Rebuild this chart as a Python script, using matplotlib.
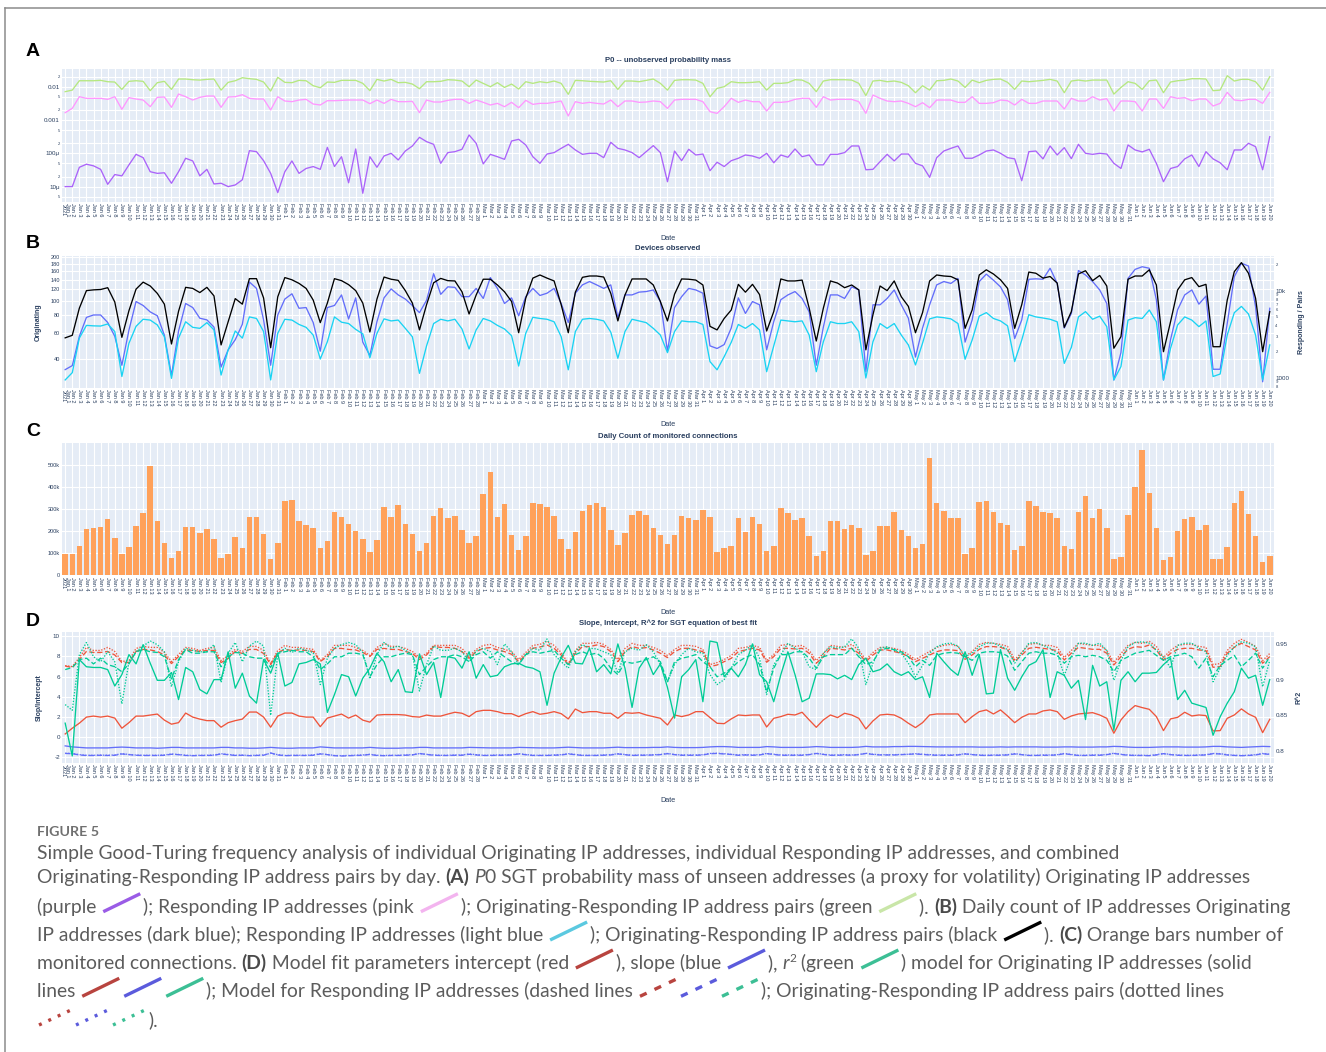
import datetime as dt
import matplotlib
matplotlib.use("Agg")
import matplotlib.pyplot as plt
from matplotlib.lines import Line2D

W, H = 1326, 1052
BG = "#E5ECF6"
INK = "#2a3f5f"
plt.rcParams['font.family'] = ['Liberation Sans', 'DejaVu Sans']

# ---- dates (one category per day, Jan 1 .. Jun 20 2021)
day0 = dt.date(2021, 1, 1)
dates = [day0 + dt.timedelta(days=i) for i in range(171)]
date_labels = ["%s %d" % (d.strftime("%b"), d.day) for d in dates]
date_labels[0] = "Jan 1\n2021"

# ---- A: P0 unobserved probability mass
p0_orig_micro = [  # purple, in units of 1e-6
    10, 10, 38, 47, 42, 33, 11.7, 23, 21, 45, 93, 74, 28, 25, 26, 12.6, 28, 71, 59, 21, 33, 12, 12.6, 10, 11.2, 16, 120, 112, 60, 25, 6.6,
    28, 59, 25, 35, 40, 33, 151, 40, 79, 13, 135, 6.3, 79, 38, 83, 100, 63, 117, 166, 302, 224, 186, 50, 105, 112, 132, 355, 200,
    48, 93, 79, 66, 234, 263, 178, 79, 50, 95, 105, 141, 186, 126, 93, 100, 100, 74, 214, 141, 126, 105, 74, 112, 170, 105, 14, 117, 60, 132, 89,
    95, 30, 54, 40, 60, 71, 89, 83, 71, 100, 52, 89, 76, 135, 79, 89, 45, 45, 93, 93, 105, 166, 166, 32, 33, 56, 93, 59, 95, 95,
    50, 42, 19, 74, 117, 141, 166, 71, 71, 89, 117, 126, 100, 74, 68, 15, 112, 117, 68, 166, 89, 148, 69, 186, 100, 93, 100, 95, 50, 35, 178,
    126, 110, 132, 50, 14, 35, 40, 68, 89, 40, 112, 68, 52, 32, 126, 126, 200, 158, 32, 316]
p0_resp = [  # pink
    0.00166, 0.00224, 0.00501, 0.00447, 0.00447, 0.00447, 0.00417, 0.00501, 0.00209, 0.00468, 0.00427, 0.00398, 0.00251, 0.00479, 0.00490, 0.00240,
    0.00603, 0.00501, 0.00398, 0.00479, 0.00525, 0.00525, 0.00240, 0.00490, 0.00501, 0.00575, 0.00447, 0.00427, 0.00427, 0.00200, 0.00501,
    0.00372, 0.00355, 0.00398, 0.00417, 0.00302, 0.00282, 0.00380, 0.00380, 0.00389, 0.00398, 0.00398, 0.00398, 0.00309, 0.00398, 0.00316, 0.00417,
    0.00355, 0.00355, 0.00363, 0.00166, 0.00398, 0.00347, 0.00347, 0.00389, 0.00417, 0.00417, 0.00316, 0.00398,
    0.00339, 0.00282, 0.00316, 0.00251, 0.00339, 0.00234, 0.00389, 0.00295, 0.00316, 0.00316, 0.00339, 0.00372, 0.00132, 0.00355, 0.00316, 0.00339,
    0.00316, 0.00302, 0.00398, 0.00251, 0.00372, 0.00372, 0.00339, 0.00347, 0.00372, 0.00355, 0.00224, 0.00398, 0.00417, 0.00417, 0.00417,
    0.00355, 0.00178, 0.00158, 0.00251, 0.00447, 0.00339, 0.00398, 0.00355, 0.00355, 0.00186, 0.00339, 0.00339, 0.00355, 0.00417, 0.00447,
    0.00447, 0.00240, 0.00501, 0.00398, 0.00417, 0.00417, 0.00417, 0.00355, 0.00158, 0.00562, 0.00447, 0.00372, 0.00355, 0.00372, 0.00316,
    0.00251, 0.00331, 0.00234, 0.00398, 0.00398, 0.00398, 0.00339, 0.00339, 0.00501, 0.00316, 0.00316, 0.00331, 0.00398, 0.00380, 0.00282, 0.00417,
    0.00316, 0.00316, 0.00372, 0.00372, 0.00372, 0.00214, 0.00447, 0.00372, 0.00372, 0.00501, 0.00398, 0.00437, 0.00186, 0.00372, 0.00372,
    0.00355, 0.00186, 0.00427, 0.00427, 0.00224, 0.00501, 0.00447, 0.00468, 0.00380, 0.00427, 0.00427, 0.00263, 0.00316, 0.00676, 0.00398,
    0.00380, 0.00417, 0.00417, 0.00316, 0.00676]
p0_pair = [  # light green
    0.0071, 0.0079, 0.0151, 0.0151, 0.0151, 0.0155, 0.0141, 0.0138, 0.0083, 0.0145, 0.0151, 0.0145, 0.0076, 0.0132, 0.0145, 0.0083,
    0.0170, 0.0170, 0.0162, 0.0158, 0.0166, 0.0170, 0.0079, 0.0135, 0.0151, 0.0186, 0.0174, 0.0166, 0.0138, 0.0074, 0.0191,
    0.0135, 0.0132, 0.0155, 0.0151, 0.0107, 0.0093, 0.0138, 0.0135, 0.0155, 0.0155, 0.0155, 0.0126, 0.0076, 0.0166, 0.0148, 0.0166,
    0.0132, 0.0135, 0.0120, 0.0087, 0.0141, 0.0141, 0.0145, 0.0162, 0.0158, 0.0148, 0.0100, 0.0158,
    0.0126, 0.0100, 0.0132, 0.0095, 0.0120, 0.0085, 0.0141, 0.0126, 0.0141, 0.0132, 0.0148, 0.0126, 0.0059, 0.0155, 0.0151, 0.0145,
    0.0141, 0.0138, 0.0151, 0.0083, 0.0148, 0.0148, 0.0141, 0.0155, 0.0170, 0.0126, 0.0079, 0.0155, 0.0162, 0.0162, 0.0158,
    0.0126, 0.0050, 0.0089, 0.0100, 0.0141, 0.0132, 0.0132, 0.0135, 0.0141, 0.0079, 0.0126, 0.0126, 0.0132, 0.0162, 0.0158,
    0.0126, 0.0071, 0.0148, 0.0162, 0.0162, 0.0162, 0.0158, 0.0126, 0.0054, 0.0148, 0.0155, 0.0141, 0.0148, 0.0135, 0.0107,
    0.0066, 0.0107, 0.0079, 0.0151, 0.0155, 0.0170, 0.0148, 0.0095, 0.0158, 0.0132, 0.0155, 0.0166, 0.0170, 0.0135, 0.0083, 0.0148,
    0.0141, 0.0148, 0.0155, 0.0166, 0.0148, 0.0066, 0.0148, 0.0158, 0.0148, 0.0158, 0.0158, 0.0158, 0.0060, 0.0095, 0.0141,
    0.0126, 0.0083, 0.0151, 0.0158, 0.0066, 0.0138, 0.0151, 0.0158, 0.0174, 0.0174, 0.0170, 0.0076, 0.0079, 0.0214, 0.0148,
    0.0166, 0.0166, 0.0141, 0.0079, 0.0200]

# ---- B: devices observed
dev_orig = [  # left axis, blue
    33.6, 35.8, 57, 77, 80, 80, 71, 57, 36, 63, 99, 93, 84, 79, 58, 30.7, 62, 96, 90, 76, 74, 66, 35, 46, 54, 69, 135, 122, 74, 36, 80,
    103, 112, 89, 90, 71, 45, 90, 93, 110, 75, 105, 52, 42, 72, 105, 121, 110, 103, 93, 83, 101, 154, 111, 125, 124, 107, 107, 122,
    104, 145, 122, 96, 105, 79, 107, 122, 109, 113, 122, 96, 71, 113, 129, 136, 129, 122, 129, 77, 110, 110, 115, 116, 119, 99, 45, 90, 107, 122, 119,
    113, 49, 47, 50, 65, 105, 82, 99, 94, 46, 72, 102, 110, 116, 104, 84, 36, 66, 110, 110, 104, 125, 119, 32.5, 94, 94, 104, 119, 94, 76,
    41, 65, 94, 129, 136, 132, 143, 52, 74, 136, 153, 139, 125, 102, 55, 74, 141, 142, 141, 168, 132, 65, 82, 162, 151, 136, 119, 96, 28.5, 44, 143,
    165, 172, 168, 102, 28.5, 54, 87, 110, 119, 95, 108, 33.8, 33.8, 70, 147, 182, 174, 91, 27.7, 89]
dev_resp = [  # right axis, light blue
    950, 1150, 2860, 4000, 3950, 3930, 4150, 3400, 1040, 2500, 3900, 4700, 4600, 4050, 2960, 990, 2860, 4400, 3800, 3700,
    4300, 3550, 1080, 2090, 3450, 2860, 5000, 4800, 3400, 950, 3250,
    4700, 4600, 4100, 3800, 3100, 1650, 2600, 5000, 4350, 4200, 3600, 3200, 1700, 3250, 4750, 4500, 4600, 3700, 2960, 1130,
    2330, 4200, 4700, 4500, 4700, 3640, 2150, 3550,
    4800, 4500, 4000, 3640, 3050, 1370, 3250, 4950, 4800, 4700, 4400, 2970, 1240, 3400, 4700, 4800, 4700, 4500, 3350, 1680,
    3400, 4700, 4500, 4300, 3700, 3100, 1950, 3400, 4500, 4400, 4400,
    4100, 1540, 1240, 1750, 2560, 4100, 3700, 4200, 3550, 1180, 2340, 4600, 4500, 4400, 4500, 3100, 1180, 2600, 4400, 4200,
    4200, 4400, 3400, 1000, 2600, 4200, 3700, 4200, 3100, 2390,
    1410, 2500, 4750, 5000, 4900, 4750, 4200, 1640, 2720, 5100, 5600, 4800, 4500, 3950, 1540, 2720, 5300, 5000, 4860, 4700,
    4400, 1470, 2240, 5000, 5750, 4700, 5100, 3870, 950, 1350, 4600,
    4900, 4800, 6000, 4400, 950, 2190, 4050, 5000, 4600, 3870, 4500, 1040, 1110, 3100, 5600, 6600, 5400, 3100, 950, 2390]
dev_pair = [  # right axis, black
    2880, 3080, 6300, 10000, 10200, 10300, 10800, 7400, 2920, 5900, 10400, 12500, 11300, 9300, 7000, 2450, 5800, 10900, 10600, 9500,
    10900, 8700, 2390, 4400, 8100, 7000, 13700, 13700, 8250, 2220, 8500,
    14100, 13300, 12100, 10600, 7800, 4300, 7200, 13700, 13000, 11700, 10000, 7200, 3360, 8000, 14300, 13500, 13100, 10000, 7200, 3550,
    6900, 12300, 13800, 13000, 12900, 9700, 5400, 8900,
    13500, 13500, 11600, 9700, 7500, 3300, 8200, 13900, 15100, 13900, 12900, 6900, 3300, 9600, 14200, 14700, 14700, 14300, 9300, 4500,
    8900, 13600, 13600, 13600, 11600, 7500, 4500, 9100, 13600, 13500, 13200,
    11600, 3900, 3550, 4800, 6000, 11800, 9600, 11800, 9000, 3450, 5750, 13600, 12900, 12900, 13200, 6300, 2650, 6300, 12900, 12200,
    10800, 11600, 10200, 2100, 5300, 11300, 10000, 12900, 8500, 6600,
    3300, 5600, 12900, 15100, 14700, 14500, 13300, 3700, 6000, 15100, 17300, 15500, 13300, 10600, 3700, 6900, 16300, 15800, 13900, 14500,
    12200, 3800, 5750, 15500, 16900, 13000, 14900, 11300, 2190, 2970, 13500,
    14700, 14700, 17300, 11600, 2000, 4400, 10200, 13300, 14100, 11100, 11800, 2280, 2280, 7800, 16500, 20900, 15800, 8200, 2000, 5750]

# ---- C: daily count of monitored connections (thousands)
conns_k = [
    96, 96, 131, 209, 214, 218, 254, 170, 98, 126, 223, 282, 495, 244, 148, 78, 111, 220, 220, 191, 209, 163, 77, 98, 172, 125, 264, 264, 187, 74, 148,
    337, 342, 245, 227, 214, 123, 157, 285, 262, 232, 200, 164, 107, 158, 307, 262, 319, 232, 185, 111, 145, 270, 303, 259, 270, 206, 148, 178,
    366, 465, 262, 324, 181, 114, 178, 328, 324, 307, 268, 164, 117, 196, 289, 316, 327, 310, 205, 139, 191, 274, 291, 274, 212, 184, 142, 184, 267, 258, 248,
    297, 265, 104, 122, 133, 258, 197, 262, 230, 110, 131, 306, 282, 248, 258, 179, 86, 108, 247, 244, 209, 229, 214, 90, 108, 224, 224, 286, 203, 178,
    123, 143, 532, 325, 289, 261, 261, 98, 122, 330, 336, 286, 236, 227, 114, 133, 336, 313, 288, 280, 258, 133, 117, 286, 357, 261, 300, 214, 75, 83, 271,
    399, 565, 372, 212, 68, 83, 202, 256, 265, 205, 226, 72, 72, 126, 328, 383, 276, 176, 62, 89]

# ---- D: SGT fit parameters
icpt_orig = [
    0.33, 0.9, 1.4, 2.0, 2.1, 2.0, 2.1, 1.9, 0.9, 1.45, 2.1, 2.1, 2.2, 2.3, 1.7, 1.3, 1.45, 2.4, 2.0, 1.8, 1.65, 1.65, 1.0, 1.45, 1.65, 1.8, 2.5, 2.5, 2.0, 1.0, 2.1,
    2.4, 2.4, 2.1, 2.0, 2.0, 1.05, 1.9, 2.1, 2.3, 1.9, 2.2, 1.7, 1.5, 2.2, 2.25, 2.25, 2.25, 2.2, 2.05, 2.0, 2.2, 2.1, 2.1, 2.3, 2.48, 2.38, 2.05, 2.54,
    2.67, 2.67, 2.54, 2.34, 2.34, 2.05, 2.34, 2.54, 2.28, 2.38, 2.54, 2.34, 1.82, 2.8, 2.44, 2.54, 2.54, 2.38, 2.38, 1.88, 2.44, 2.38, 2.44, 2.21, 2.05, 1.88, 1.22, 2.21, 2.05, 2.21, 2.54,
    2.54, 1.95, 1.39, 1.35, 1.82, 2.21, 2.15, 2.21, 2.21, 1.02, 1.88, 2.05, 2.28, 2.21, 2.48, 1.72, 0.99, 1.72, 2.21, 1.95, 2.38, 2.21, 1.88, 0.83, 1.62, 2.21, 2.28, 2.21, 1.88, 1.39,
    0.96, 1.45, 2.21, 2.31, 2.31, 2.31, 2.31, 1.45, 2.05, 2.54, 2.71, 2.31, 2.71, 2.11, 1.45, 1.98, 2.31, 2.31, 2.61, 2.71, 2.54, 1.78, 2.11, 2.31, 2.38, 2.44, 2.21, 1.88, 0.40, 1.72, 2.54,
    3.14, 2.94, 2.77, 2.05, 0.66, 1.82, 1.98, 2.48, 2.11, 2.21, 2.15, 0.63, 0.66, 1.88, 2.21, 2.81, 2.31, 1.98, 0.46, 1.78]
icpt_resp = [
    7.06, 6.9, 7.7, 8.5, 8.4, 8.4, 8.5, 8.15, 7.4, 7.4, 8.5, 8.7, 8.65, 8.5, 8.15, 7.3, 8.0, 8.65, 8.6, 8.5, 8.6, 8.6, 7.4, 7.8, 8.5, 8.3, 8.7, 8.7, 8.3, 7.2, 8.4,
    8.7, 8.6, 8.65, 8.6, 8.5, 7.5, 8.0, 8.8, 8.8, 8.7, 8.65, 8.4, 8.0, 8.7, 8.8, 8.7, 8.7, 8.5, 8.3, 7.7, 8.15, 9.0, 8.9, 8.9, 8.81, 8.48, 7.82, 8.48,
    8.81, 8.88, 8.65, 8.48, 8.22, 7.49, 8.15, 8.81, 8.94, 9.14, 8.81, 8.15, 7.16, 8.32, 8.98, 8.98, 9.14, 8.98, 8.48, 7.49, 8.48, 8.98, 8.81, 8.88, 8.65, 8.32, 7.89, 8.48, 8.81, 8.81, 8.65,
    8.48, 7.0, 7.16, 7.49, 7.82, 8.48, 8.65, 8.81, 8.65, 7.43, 7.99, 8.81, 8.81, 8.75, 8.81, 8.32, 7.33, 7.99, 8.81, 8.75, 8.65, 8.81, 8.32, 7.49, 8.15, 8.65, 8.65, 8.48, 8.32, 7.99,
    7.49, 7.82, 8.15, 8.48, 8.65, 8.65, 8.58, 7.72, 8.15, 8.71, 8.98, 8.98, 8.91, 8.65, 7.49, 8.15, 8.81, 8.91, 8.81, 8.71, 8.58, 7.66, 8.32, 8.91, 8.81, 8.71, 8.71, 8.32, 7.16, 7.99, 8.71,
    8.98, 8.91, 9.14, 8.65, 7.66, 8.32, 8.71, 8.81, 8.81, 8.65, 8.58, 6.93, 7.0, 8.32, 8.91, 9.31, 8.98, 8.65, 7.33, 7.99]
icpt_pair = [
    7.1, 7.0, 7.9, 8.9, 8.6, 8.6, 8.9, 8.5, 7.5, 7.6, 8.8, 9.0, 8.9, 8.9, 8.4, 7.5, 8.2, 8.9, 8.8, 8.6, 8.8, 8.9, 7.6, 8.1, 8.7, 8.5, 9.0, 9.0, 8.6, 7.3, 8.6,
    9.1, 8.9, 8.9, 8.8, 8.7, 7.6, 8.2, 9.1, 9.1, 9.1, 8.9, 8.6, 8.1, 8.9, 9.3, 9.0, 9.0, 8.8, 8.5, 7.9, 8.3, 9.1, 9.1, 9.1, 9.1, 8.8, 8.0, 8.7,
    9.1, 9.2, 8.9, 8.7, 8.5, 7.7, 8.4, 9.1, 9.2, 9.5, 9.1, 8.4, 7.3, 8.6, 9.3, 9.3, 9.4, 9.2, 8.7, 7.7, 8.8, 9.3, 9.1, 9.1, 8.9, 8.6, 8.1, 8.7, 9.1, 9.1, 9.0,
    8.7, 7.2, 7.4, 7.7, 8.1, 8.8, 8.9, 9.1, 8.9, 7.6, 8.2, 9.1, 9.2, 9.0, 9.1, 8.6, 7.6, 8.3, 9.1, 9.0, 8.9, 9.2, 8.6, 7.7, 8.4, 8.9, 8.9, 8.8, 8.6, 8.2,
    7.7, 8.1, 8.5, 8.9, 9.1, 9.2, 9.0, 8.0, 8.5, 9.2, 9.4, 9.3, 9.2, 9.0, 7.7, 8.4, 9.2, 9.3, 9.1, 9.1, 8.9, 7.9, 8.6, 9.3, 9.2, 9.1, 9.1, 8.6, 7.4, 8.3, 9.1,
    9.4, 9.3, 9.5, 9.0, 7.9, 8.6, 9.1, 9.2, 9.2, 9.0, 8.9, 7.2, 7.3, 8.6, 9.3, 9.7, 9.4, 9.0, 7.6, 8.3]
slope_orig = [
    -0.85, -0.95, -1.0, -1.05, -1.05, -1.05, -1.05, -1.0, -0.97, -1.0, -1.05, -1.05, -1.05, -1.08, -1.05, -1.0, -1.0, -1.05, -1.05, -1.05,
    -1.05, -1.05, -1.0, -1.0, -1.05, -1.05, -1.08, -1.08, -1.05, -1.0, -1.05,
    -1.08, -1.08, -1.05, -1.05, -1.05, -0.95, -1.0, -1.05, -1.05, -1.05, -1.05, -1.05, -1.0, -1.05, -1.08, -1.08, -1.08, -1.05, -1.05, -1.0,
    -1.0, -1.05, -1.05, -1.05, -1.05, -1.05, -1.0, -1.02,
    -1.05, -1.05, -1.05, -1.05, -1.05, -1.0, -1.02, -1.05, -1.05, -1.05, -1.05, -1.02, -0.98, -1.02, -1.05, -1.05, -1.05, -1.05, -1.02, -0.98,
    -1.02, -1.02, -1.02, -1.02, -1.0, -1.0, -0.95, -1.0, -1.02, -1.02, -1.02,
    -1.0, -0.95, -0.92, -0.92, -0.95, -1.0, -1.0, -1.0, -1.0, -0.92, -0.95, -1.0, -1.0, -1.0, -1.0, -0.97, -0.92, -0.95, -1.0, -1.0,
    -1.0, -1.0, -0.97, -0.9, -0.95, -0.95, -0.95, -0.92, -0.92, -0.9,
    -0.9, -0.92, -0.95, -0.95, -0.95, -0.95, -0.95, -0.95, -0.95, -0.97, -0.97, -0.97, -0.95, -0.97, -0.95, -0.95, -0.95, -0.95, -0.97, -0.97,
    -0.97, -0.95, -0.95, -0.97, -0.97, -0.97, -0.95, -0.95, -0.9, -0.92, -0.97,
    -1.0, -1.0, -1.0, -0.97, -0.95, -0.95, -0.95, -0.97, -0.97, -0.97, -0.95, -0.9, -0.9, -0.95, -0.97, -1.0, -0.97, -0.95, -0.9, -0.92]
slope_resp = [
    -1.6, -1.62, -1.75, -1.8, -1.8, -1.78, -1.8, -1.78, -1.65, -1.72, -1.78, -1.8, -1.8, -1.8, -1.78, -1.68, -1.72, -1.8, -1.82, -1.8,
    -1.8, -1.78, -1.65, -1.72, -1.8, -1.78, -1.82, -1.8, -1.78, -1.55, -1.75,
    -1.82, -1.8, -1.8, -1.8, -1.78, -1.65, -1.72, -1.82, -1.85, -1.82, -1.8, -1.78, -1.7, -1.8, -1.82, -1.8, -1.8, -1.78, -1.75, -1.6,
    -1.7, -1.78, -1.8, -1.8, -1.78, -1.78, -1.68, -1.75,
    -1.8, -1.8, -1.78, -1.78, -1.75, -1.65, -1.72, -1.8, -1.8, -1.8, -1.78, -1.75, -1.65, -1.72, -1.8, -1.8, -1.8, -1.78, -1.75, -1.65,
    -1.72, -1.8, -1.78, -1.78, -1.75, -1.72, -1.62, -1.72, -1.78, -1.78, -1.78,
    -1.75, -1.62, -1.6, -1.65, -1.7, -1.78, -1.75, -1.78, -1.75, -1.62, -1.7, -1.78, -1.78, -1.78, -1.78, -1.72, -1.6, -1.7, -1.78, -1.78,
    -1.75, -1.78, -1.72, -1.6, -1.7, -1.75, -1.75, -1.75, -1.72, -1.7,
    -1.65, -1.7, -1.75, -1.78, -1.78, -1.78, -1.75, -1.65, -1.72, -1.78, -1.8, -1.78, -1.78, -1.75, -1.65, -1.72, -1.8, -1.8, -1.78, -1.78,
    -1.75, -1.62, -1.72, -1.8, -1.8, -1.78, -1.78, -1.72, -1.6, -1.7, -1.78,
    -1.8, -1.8, -1.82, -1.75, -1.62, -1.72, -1.78, -1.8, -1.8, -1.78, -1.75, -1.62, -1.65, -1.75, -1.8, -1.82, -1.8, -1.75, -1.62, -1.7]
slope_pair = [
    -1.58, -1.6, -1.72, -1.78, -1.78, -1.76, -1.78, -1.75, -1.62, -1.7, -1.76, -1.78, -1.78, -1.78, -1.75, -1.65, -1.7, -1.78, -1.8, -1.78,
    -1.78, -1.75, -1.62, -1.7, -1.78, -1.76, -1.8, -1.78, -1.75, -1.58, -1.72,
    -1.8, -1.78, -1.78, -1.78, -1.75, -1.62, -1.7, -1.8, -1.82, -1.8, -1.78, -1.75, -1.68, -1.78, -1.8, -1.78, -1.78, -1.75, -1.72, -1.62,
    -1.68, -1.75, -1.78, -1.78, -1.75, -1.75, -1.65, -1.72,
    -1.78, -1.78, -1.75, -1.75, -1.72, -1.62, -1.7, -1.78, -1.78, -1.78, -1.75, -1.72, -1.62, -1.7, -1.78, -1.78, -1.78, -1.75, -1.72, -1.62,
    -1.7, -1.78, -1.75, -1.75, -1.72, -1.7, -1.6, -1.7, -1.75, -1.75, -1.75,
    -1.72, -1.6, -1.58, -1.62, -1.68, -1.75, -1.72, -1.75, -1.72, -1.6, -1.68, -1.75, -1.75, -1.75, -1.75, -1.7, -1.58, -1.68, -1.75, -1.75,
    -1.72, -1.75, -1.7, -1.58, -1.68, -1.72, -1.72, -1.72, -1.7, -1.68,
    -1.62, -1.68, -1.72, -1.75, -1.75, -1.75, -1.72, -1.62, -1.7, -1.75, -1.78, -1.75, -1.75, -1.72, -1.62, -1.7, -1.78, -1.78, -1.75, -1.75,
    -1.72, -1.6, -1.7, -1.78, -1.78, -1.75, -1.75, -1.7, -1.58, -1.68, -1.75,
    -1.78, -1.78, -1.8, -1.72, -1.6, -1.7, -1.75, -1.78, -1.78, -1.75, -1.72, -1.6, -1.62, -1.72, -1.78, -1.8, -1.78, -1.72, -1.6, -1.68]
r2_orig = [
    0.839, 0.793, 0.928, 0.918, 0.917, 0.917, 0.914, 0.891, 0.907, 0.935, 0.922, 0.949, 0.923, 0.899, 0.899, 0.910, 0.872, 0.917, 0.911, 0.886,
    0.880, 0.900, 0.900, 0.939, 0.888, 0.909, 0.877, 0.867, 0.928, 0.909, 0.937,
    0.891, 0.896, 0.922, 0.924, 0.928, 0.922, 0.854, 0.879, 0.907, 0.904, 0.877, 0.902, 0.916, 0.937, 0.925, 0.897, 0.914, 0.883, 0.882, 0.936,
    0.907, 0.924, 0.875, 0.932, 0.930, 0.916, 0.939, 0.902,
    0.921, 0.904, 0.906, 0.918, 0.922, 0.923, 0.918, 0.916, 0.911, 0.864, 0.909, 0.931, 0.948, 0.923, 0.922, 0.944, 0.911, 0.921, 0.908, 0.950,
    0.916, 0.861, 0.916, 0.931, 0.907, 0.922, 0.889, 0.846, 0.904, 0.914, 0.928,
    0.869, 0.954, 0.952, 0.904, 0.916, 0.904, 0.921, 0.950, 0.907, 0.897, 0.869, 0.907, 0.939, 0.907, 0.869, 0.874, 0.908, 0.908, 0.907, 0.901,
    0.906, 0.900, 0.921, 0.930, 0.911, 0.914, 0.922, 0.911, 0.906, 0.911,
    0.900, 0.904, 0.875, 0.937, 0.925, 0.914, 0.906, 0.939, 0.906, 0.935, 0.880, 0.881, 0.942, 0.902, 0.885, 0.904, 0.920, 0.925, 0.942, 0.875,
    0.911, 0.906, 0.888, 0.899, 0.844, 0.920, 0.891, 0.897, 0.829, 0.899, 0.911,
    0.897, 0.909, 0.909, 0.910, 0.921, 0.930, 0.872, 0.885, 0.867, 0.864, 0.861, 0.822, 0.848, 0.867, 0.883, 0.916, 0.902, 0.906, 0.864, 0.900]
r2_resp = [
    0.914, 0.917, 0.928, 0.930, 0.922, 0.930, 0.921, 0.918, 0.911, 0.922, 0.939, 0.942, 0.939, 0.938, 0.932, 0.901, 0.928, 0.942, 0.937, 0.937,
    0.939, 0.939, 0.918, 0.932, 0.938, 0.937, 0.932, 0.930, 0.930, 0.917, 0.937,
    0.939, 0.941, 0.939, 0.939, 0.932, 0.914, 0.922, 0.932, 0.932, 0.937, 0.937, 0.935, 0.904, 0.921, 0.932, 0.932, 0.935, 0.937, 0.935, 0.907,
    0.918, 0.928, 0.932, 0.932, 0.935, 0.932, 0.925, 0.935,
    0.939, 0.930, 0.939, 0.932, 0.925, 0.921, 0.935, 0.939, 0.937, 0.939, 0.941, 0.930, 0.921, 0.935, 0.939, 0.935, 0.937, 0.930, 0.916, 0.907,
    0.925, 0.923, 0.925, 0.928, 0.932, 0.925, 0.897, 0.925, 0.930, 0.932, 0.935,
    0.925, 0.918, 0.904, 0.909, 0.916, 0.925, 0.931, 0.935, 0.921, 0.883, 0.916, 0.935, 0.935, 0.939, 0.939, 0.930, 0.916, 0.932, 0.935, 0.935,
    0.935, 0.944, 0.932, 0.921, 0.925, 0.941, 0.944, 0.942, 0.939, 0.932,
    0.918, 0.927, 0.920, 0.934, 0.937, 0.938, 0.937, 0.932, 0.927, 0.937, 0.939, 0.939, 0.938, 0.933, 0.913, 0.925, 0.937, 0.939, 0.937, 0.937,
    0.934, 0.923, 0.932, 0.934, 0.932, 0.934, 0.932, 0.927, 0.911, 0.927, 0.932,
    0.937, 0.939, 0.941, 0.934, 0.927, 0.932, 0.934, 0.937, 0.932, 0.916, 0.930, 0.904, 0.920, 0.927, 0.934, 0.918, 0.927, 0.937, 0.916, 0.932]
r2_pair = [
    0.865, 0.857, 0.935, 0.952, 0.932, 0.925, 0.939, 0.925, 0.866, 0.925, 0.939, 0.947, 0.954, 0.949, 0.939, 0.890, 0.925, 0.944, 0.941, 0.939,
    0.939, 0.949, 0.896, 0.937, 0.952, 0.925, 0.947, 0.954, 0.947, 0.850, 0.935,
    0.944, 0.938, 0.944, 0.941, 0.938, 0.893, 0.930, 0.944, 0.949, 0.952, 0.949, 0.938, 0.901, 0.935, 0.952, 0.944, 0.947, 0.941, 0.935, 0.884,
    0.921, 0.947, 0.941, 0.941, 0.944, 0.939, 0.925, 0.940,
    0.944, 0.939, 0.921, 0.950, 0.939, 0.921, 0.935, 0.944, 0.941, 0.957, 0.935, 0.925, 0.916, 0.939, 0.949, 0.944, 0.943, 0.939, 0.935, 0.909,
    0.939, 0.944, 0.941, 0.949, 0.939, 0.921, 0.897, 0.921, 0.935, 0.944, 0.939,
    0.937, 0.907, 0.893, 0.900, 0.916, 0.935, 0.941, 0.949, 0.930, 0.879, 0.921, 0.935, 0.951, 0.944, 0.939, 0.918, 0.914, 0.937, 0.946, 0.944,
    0.946, 0.957, 0.944, 0.893, 0.923, 0.944, 0.946, 0.941, 0.937, 0.923,
    0.904, 0.920, 0.937, 0.946, 0.950, 0.951, 0.947, 0.932, 0.937, 0.946, 0.951, 0.951, 0.947, 0.942, 0.923, 0.937, 0.951, 0.952, 0.948, 0.944,
    0.937, 0.906, 0.932, 0.951, 0.951, 0.948, 0.951, 0.941, 0.899, 0.927, 0.946,
    0.952, 0.953, 0.951, 0.941, 0.932, 0.916, 0.948, 0.951, 0.951, 0.944, 0.939, 0.897, 0.916, 0.934, 0.946, 0.953, 0.951, 0.946, 0.890, 0.927]

x = list(range(len(dates)))

fig = plt.figure(figsize=(W / 100, H / 100), dpi=100)
fig.patch.set_facecolor("white")


def px_axes(x0, y0, x1, y1):
    ax = fig.add_axes([x0 / W, 1 - y1 / H, (x1 - x0) / W, (y1 - y0) / H])
    ax.set_facecolor(BG)
    for s in ax.spines.values():
        s.set_visible(False)
    ax.set_xlim(-0.45, len(x) - 0.4)
    ax.set_xticks(x)
    ax.set_xticklabels(date_labels, rotation=270, fontsize=4, color=INK, linespacing=0.95)
    ax.tick_params(axis="x", length=0, pad=1)
    ax.tick_params(axis="y", length=0, pad=1.5, labelsize=4.5, labelcolor=INK)
    ax.grid(True, which="both", color="white", lw=0.8)
    ax.set_axisbelow(True)
    return ax


def strip_twin(ax2):
    for s in ax2.spines.values():
        s.set_visible(False)
    ax2.tick_params(axis="y", length=0, pad=1, labelsize=4.5, labelcolor=INK)
    ax2.grid(False)


def ftext(xp, yp, s, **kw):
    fig.text(xp / W, 1 - yp / H, s, **kw)


LW = 0.95

# ---------------- A
axA = px_axes(62, 69.3, 1274, 201.7)
axA.set_yscale("log")
axA.plot(x, [v * 1e-6 for v in p0_orig_micro], color="#AB63FA", lw=LW)
axA.plot(x, p0_resp, color="#FF97FF", lw=LW)
axA.plot(x, p0_pair, color="#B6E880", lw=LW)
axA.set_ylim(3.52e-6, 0.0333)
axA.set_yticks([1e-5, 1e-4, 1e-3, 1e-2])
axA.set_yticklabels(["10μ", "100μ", "0.001", "0.01"])
axA.set_yticks([5e-6, 2e-5, 5e-5, 2e-4, 5e-4, 2e-3, 5e-3, 2e-2], minor=True)
axA.set_yticklabels(["5", "2", "5", "2", "5", "2", "5", "2"], minor=True)
axA.tick_params(axis="y", which="minor", length=0, pad=1.5, labelsize=3, labelcolor=INK)

# ---------------- B
axB = px_axes(62, 256, 1274, 388)
axB.set_yscale("log")
axB.plot(x, dev_orig, color="#636EFA", lw=LW, zorder=3)
axB.set_ylim(25.1, 204)
b_ticks = [40, 60, 80, 100, 120, 140, 160, 180, 200]
axB.set_yticks(b_ticks)
axB.set_yticklabels([str(t) for t in b_ticks])
axB.yaxis.set_minor_locator(matplotlib.ticker.NullLocator())
axB.tick_params(axis="y", labelsize=4)
axB.set_ylabel("Originating", fontsize=5, fontweight="bold", color=INK, labelpad=6)
axB2 = axB.twinx()
strip_twin(axB2)
axB2.set_yscale("log")
axB2.plot(x, dev_resp, color="#19D3F3", lw=LW)
axB2.plot(x, dev_pair, color="black", lw=LW)
axB2.set_ylim(768, 24900)
axB2.set_yticks([1000, 10000])
axB2.set_yticklabels(["1000", "10k"])
axB2.set_yticks([800, 900, 2000, 3000, 4000, 5000, 6000, 7000, 8000, 9000, 20000], minor=True)
axB2.set_yticklabels(["8", "9", "2", "3", "4", "5", "6", "7", "8", "9", "2"], minor=True)
axB2.tick_params(axis="y", which="minor", length=0, pad=1, labelsize=3, labelcolor=INK)
axB2.set_ylabel("Responding / Pairs", fontsize=5, fontweight="bold", color=INK, labelpad=6)

# ---------------- C
axC = px_axes(62, 443, 1274, 575.3)
axC.bar(x, conns_k, width=0.78, color="#FFA15A", zorder=2)
axC.set_ylim(0, 598)
axC.set_yticks([0, 100, 200, 300, 400, 500])
axC.set_yticklabels(["0", "100k", "200k", "300k", "400k", "500k"])
axC.tick_params(axis="y", labelsize=4)

# ---------------- D
axD = px_axes(62, 631.7, 1274, 762.7)
RED, BLUE, GREEN = "#EF553B", "#636EFA", "#00CC96"
DASH = (0, (4, 2))
DOT = (0, (1, 1.2))
axD.plot(x, icpt_orig, color=RED, lw=LW)
axD.plot(x, icpt_resp, color=RED, lw=LW, ls=DASH)
axD.plot(x, icpt_pair, color=RED, lw=LW, ls=DOT)
axD.plot(x, slope_orig, color=BLUE, lw=LW)
axD.plot(x, slope_resp, color=BLUE, lw=LW, ls=DASH)
axD.plot(x, slope_pair, color=BLUE, lw=LW, ls=DOT)
axD.set_ylim(-2.515, 10.455)
axD.set_yticks([-2, 0, 2, 4, 6, 8, 10])
axD.set_yticklabels(["-2", "0", "2", "4", "6", "8", "10"])
axD.set_ylabel("Slop/Intercept", fontsize=5, fontweight="bold", color=INK, labelpad=7)
axD2 = axD.twinx()
strip_twin(axD2)
axD2.plot(x, r2_orig, color=GREEN, lw=LW)
axD2.plot(x, r2_resp, color=GREEN, lw=LW, ls=DASH)
axD2.plot(x, r2_pair, color=GREEN, lw=LW, ls=DOT)
axD2.set_ylim(0.7836, 0.9671)
axD2.set_yticks([0.8, 0.85, 0.9, 0.95])
axD2.set_yticklabels(["0.8", "0.85", "0.9", "0.95"])
axD2.set_ylabel("R^2", fontsize=5, fontweight="bold", color=INK, labelpad=6)

# ---------------- titles, letters, x-axis labels
panels = [("A", 52, "P0 -- unobserved probability mass", 61, 238),
          ("B", 243, "Devices observed", 248, 425),
          ("C", 432, "Daily Count of monitored connections", 436, 612),
          ("D", 622, "Slope, Intercept, R^2 for SGT equation of best fit", 623, 800)]
for letter, ly, title, ty, dy in panels:
    ftext(33, ly, letter, fontsize=14, fontweight="bold", ha="center", va="center", color="black")
    ftext(668, ty, title, fontsize=5.6, fontweight="bold", ha="center", va="center", color=INK)
    ftext(668, dy, "Date", fontsize=5.2, ha="center", va="center", color=INK)

# ---------------- frame lines
fig.add_artist(Line2D([5 / W, 1], [1 - 7.5 / H, 1 - 7.5 / H], color="#8c8c8c", lw=1.1))
fig.add_artist(Line2D([5 / W, 5 / W], [0, 1 - 7.5 / H], color="#8c8c8c", lw=1.1))

# ---------------- caption
CAP_FONT = ["Lato", "DejaVu Sans"]
CAP_INK = "#5c5c5c"
renderer = fig.canvas.get_renderer()


def text_w(s, **kw):
    t = fig.text(0, 0, s + "|", **kw)
    a = t.get_window_extent(renderer).width
    t.set_text("|")
    b = t.get_window_extent(renderer).width
    t.remove()
    return a - b


line1 = ("Simple Good-Turing frequency analysis of individual Originating IP addresses, "
         "individual Responding IP addresses, and combined")
fs = 12.7
fs = fs * 1085 / text_w(line1, fontsize=fs, family=CAP_FONT)

SW_PURPLE, SW_PINK, SW_LGREEN = "#9a5ce6", "#f3b4ef", "#c9e6a8"
SW_CYAN, SW_RED, SW_BLUE, SW_GREEN = "#5bc9e0", "#b8443f", "#5b5bdc", "#3cbf95"

caption = [
    (859, [("t", line1, "n")]),
    (883, [("t", "Originating-Responding IP address pairs by day. ", "n"), ("t", "(A)", "b"), ("t", " ", "n"),
           ("t", "P", "i"), ("t", "0 SGT probability mass of unseen addresses (a proxy for volatility) Originating IP addresses", "n")]),
    (912.7, [("t", "(purple ", "n"), ("sw", SW_PURPLE, "-"), ("t", "); Responding IP addresses (pink ", "n"),
             ("sw", SW_PINK, "-"), ("t", "); Originating-Responding IP address pairs (green ", "n"),
             ("sw", SW_LGREEN, "-"), ("t", "). ", "n"), ("t", "(B)", "b"),
             ("t", " Daily count of IP addresses Originating", "n")]),
    (941, [("t", "IP addresses (dark blue); Responding IP addresses (light blue ", "n"), ("sw", SW_CYAN, "-"),
           ("t", "); Originating-Responding IP address pairs (black ", "n"), ("sw", "black", "-"),
           ("t", "). ", "n"), ("t", "(C)", "b"), ("t", " Orange bars number of", "n")]),
    (969, [("t", "monitored connections. ", "n"), ("t", "(D)", "b"), ("t", " Model fit parameters intercept (red ", "n"),
           ("sw", SW_RED, "-"), ("t", "), slope (blue ", "n"), ("sw", SW_BLUE, "-"), ("t", "), ", "n"),
           ("t", "r", "i"), ("sup", "2"), ("t", " (green ", "n"), ("sw", SW_GREEN, "-"),
           ("t", ") model for Originating IP addresses (solid", "n")]),
    (997.3, [("t", "lines ", "n"), ("sw", SW_RED, "-"), ("sw", SW_BLUE, "-"), ("sw", SW_GREEN, "-"),
             ("t", "); Model for Responding IP addresses (dashed lines ", "n"),
             ("sw", SW_RED, "--"), ("sw", SW_BLUE, "--"), ("sw", SW_GREEN, "--"),
             ("t", "); Originating-Responding IP address pairs (dotted lines", "n")]),
    (1026, [("sw", SW_RED, ":"), ("sw", SW_BLUE, ":"), ("sw", SW_GREEN, ":"), ("t", ").", "n")]),
]

ftext(37, 835.7, "FIGURE 5", fontsize=10.3, fontweight="bold", family=CAP_FONT, color="#707070", va="baseline")

for base, segs in caption:
    cx = 37
    for seg in segs:
        if seg[0] == "sw":
            col, ls = seg[1], seg[2]
            if ls == ":":
                style, w, h = (0, (0.9, 2.2)), 32, 15
            elif ls == "--":
                style, w, h = (0, (2.2, 2.6)), 36, 17
            else:
                style, w, h = "-", 37, 18
            fig.add_artist(Line2D([(cx + 2) / W, (cx + 2 + w) / W], [1 - (base - 1) / H, 1 - (base - 1 - h) / H],
                                  color=col, lw=2.4, ls=style, solid_capstyle="butt", dash_capstyle="butt"))
            cx += w + 5
        elif seg[0] == "sup":
            kw = dict(fontsize=fs * 0.62, family=CAP_FONT, color=CAP_INK)
            ftext(cx + 0.5, base - 7, seg[1], va="baseline", **kw)
            cx += text_w(seg[1], **kw) + 0.5
        else:
            s, st = seg[1], seg[2]
            kw = dict(fontsize=fs, family=CAP_FONT, color=CAP_INK)
            if st == "b":
                kw.update(fontweight="bold", color="#4a4a4a")
            elif st == "i":
                kw.update(fontstyle="italic")
            ftext(cx, base, s, va="baseline", **kw)
            cx += text_w(s, **kw)

fig.savefig("out.png", dpi=100, facecolor="white")
